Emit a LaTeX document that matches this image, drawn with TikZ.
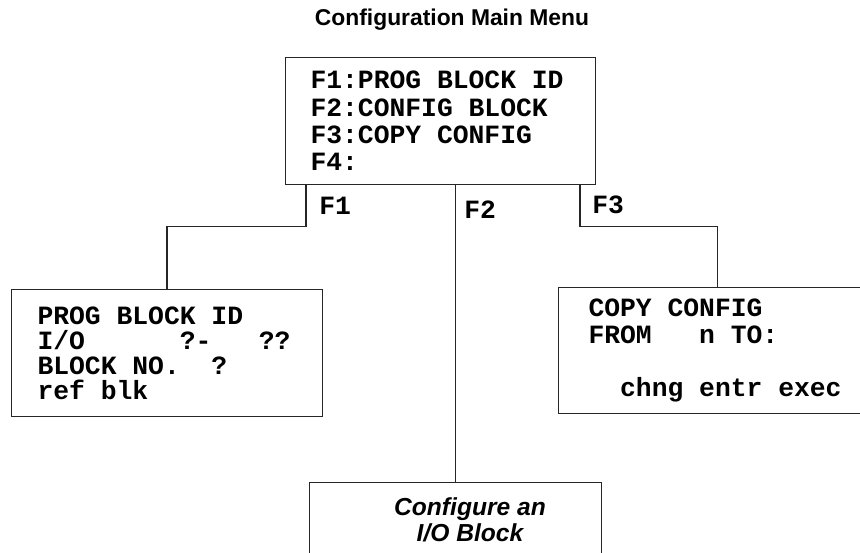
\documentclass[tikz,border=0pt]{standalone}
\usepackage{fontspec}
\newfontfamily\arialfont{Liberation Sans}
\newfontfamily\cfgmono{Liberation Mono}
\usepackage{tikz}
% screen font, and one fixed pitch blank cell
\newcommand\screenfont[1]{\fontsize{15}{#1}\cfgmono\bfseries}
\newcommand\sk[1][1]{\hspace*{#1\fontcharwd\font`\x}}

\begin{document}
\begin{tikzpicture}[x=0.02cm, y=-0.02cm,
    screen/.style={draw=black!85, line width=0.6pt, anchor=north west, inner ysep=0pt, align=left},
    keylabel/.style={anchor=west, inner sep=0pt, font=\screenfont{15}},
    link/.style={draw=black!85, line width=0.6pt}]
    \useasboundingbox (0,0) rectangle (860,552);
    \clip (0,0) rectangle (860,552);

    % Title
    \node[font={\fontsize{13}{15}\arialfont\bfseries}] (title) at (452,20) {Configuration Main Menu};

    % Main menu screen
    \node[screen, minimum width=6.2cm, minimum height=2.54cm, text width=5.2cm, inner xsep=0.5cm,
          font=\screenfont{15.5}] (menu) at (285,57)
        {F1:PROG\sk BLOCK\sk ID\\F2:CONFIG\sk BLOCK\\F3:COPY\sk CONFIG\\F4:};

    % Sub screens
    \node[screen, minimum width=6.22cm, minimum height=2.54cm, text width=5.18cm, inner xsep=0.52cm,
          font=\screenfont{14.2}] (progid) at (11,289)
        {PROG\sk BLOCK\sk ID\\I/O\sk[6]?-\sk[3]??\\BLOCK\sk NO.\sk[2]?\\ref\sk blk};
    \node[screen, minimum width=8cm, minimum height=2.52cm, text width=6.8cm, inner xsep=0.6cm,
          font=\screenfont{15.2}] (copycfg) at (558,287)
        {COPY\sk CONFIG\\FROM\sk[3]n\sk TO:\\\mbox{}\\\sk[2]chng\sk entr\sk exec};
    \node[screen, minimum width=5.84cm, minimum height=2cm] (iocfg) at (309,482) {};
    \node[font={\fontsize{14}{14.7}\arialfont\bfseries\itshape}, align=center] (iotext) at (470,520)
        {Configure an\\I/O Block};

    % Function key branches
    \draw[link] ([xshift=0.42cm]menu.south west) -- ++(0,41) -| (progid.north);
    \draw[link] (iocfg.north) -- (iocfg.north |- menu.south);
    \draw[link] ([xshift=-0.32cm]menu.south east) -- ++(0,41) -| ([xshift=3.2cm]copycfg.north west);

    \node[keylabel] (f1) at (319,206) {F1};
    \node[keylabel] (f2) at (464,210) {F2};
    \node[keylabel] (f3) at (592,205) {F3};
\end{tikzpicture}
\end{document}
